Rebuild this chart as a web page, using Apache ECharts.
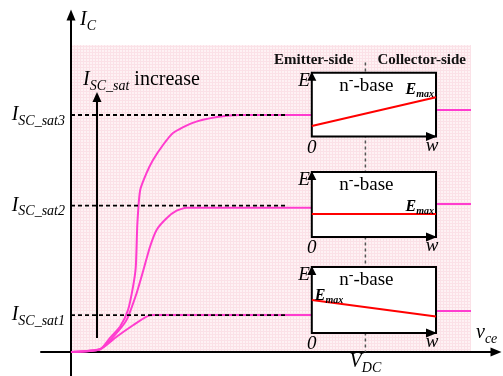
<!DOCTYPE html>
<html>
<head>
<meta charset="utf-8">
<script src="https://cdn.jsdelivr.net/npm/echarts@6/dist/echarts.min.js"></script>
<style>
html, body { margin: 0; padding: 0; background: #fff; }
#chart { width: 503px; height: 376px; }
</style>
</head>
<body>
<div id="chart"></div>
<script>
// units: vce on x, Ic on y (arbitrary)
var satNames = ['SC_sat1', 'SC_sat2', 'SC_sat3'];
var satLevels = [12.3, 48.8, 79];
var levelEnd = 53.5;

var curveSat1 = [[0, 0], [7.25, 0.9], [11.4, 5.1], [15.6, 9], [18.9, 11.8], [20.6, 12.3], [60.2, 12.3], [91.25, 13.7], [100, 13.7]];
var curveSat2 = [[0, 0], [7.25, 0.9], [10.6, 5.1], [13.9, 10.7], [16.4, 19.6], [18.1, 27.3], [19.75, 35.1], [21.4, 40.7], [23.9, 44.6], [26.4, 47.1], [28.9, 48.1], [60.2, 48.1], [91.25, 49.3], [100, 49.3]];
var curveSat3 = [[0, 0], [7.25, 0.9], [9.75, 4.7], [12.25, 8.4], [14.25, 14], [15.5, 21.7], [16.2, 28.4], [16.6, 43], [17.3, 54], [18.9, 59.7], [20.5, 64], [23, 69], [25.5, 73], [30.25, 76.3], [36.5, 78.3], [42.25, 79], [60.2, 79], [91.25, 80.7], [100, 80.7]];

var vDC = 73.6;
var vDCTop = 96.5;
var increaseFrom = 4.7, increaseTo = 86.7, increaseAt = 6.5;

// n- base insets: 0 and w edges, E axis range, field at 0 and at w
var baseEdges = [60.2, 91.25];
var boxTop = [93.1, 60, 28.3];
var boxBottom = [71.8, 38.3, 6.3];
var fieldAt0 = [75.3, 46, 17.3];
var fieldAtW = [84.9, 46, 11.8];
var emaxSide = ['w', 'w', '0'];

var serif = '"Liberation Serif", "Times New Roman", serif';
var magenta = '#ff3ccf';

// subscript drops by (line - small) / 2 below the big letter
function subRich(big, small, drop, color, bold) {
    var w = bold ? 'bold' : 'normal';
    var line = 2 * drop + small;
    return {
        b: { fontFamily: serif, fontStyle: 'italic', fontWeight: w, fontSize: big, lineHeight: line, color: color },
        s: { fontFamily: serif, fontStyle: 'italic', fontWeight: w, fontSize: small, lineHeight: small, verticalAlign: 'bottom', color: color },
        t: { fontFamily: serif, fontSize: big, lineHeight: line, color: color }
    };
}
var richMain = subRich(20, 14, 6, '#000', false);
var richEmax = subRich(16, 10, 4, '#ff0000', true);

function triangle(tip, dx, dy, len, half) {
    // arrow head with tip at `tip`, pointing along (dx, dy)
    var bx = tip[0] - dx * len, by = tip[1] - dy * len;
    return [tip, [bx - dy * half, by + dx * half], [bx + dy * half, by - dx * half]];
}

var myChart = echarts.init(document.getElementById('chart'));

var series = [];

// pink grid paper behind the curves
series.push({
    type: 'custom',
    z: 0,
    silent: true,
    data: [[0]],
    renderItem: function (params, api) {
        var p0 = api.coord([0, 0]), p1 = api.coord([100, 102.3]);
        var kids = [{
            type: 'rect',
            shape: { x: p0[0], y: p1[1], width: p1[0] - p0[0], height: p0[1] - p1[1] },
            style: { fill: '#fef2f4' }
        }];
        var x, y;
        for (x = p0[0] + 3; x < p1[0]; x += 3) {
            kids.push({ type: 'line', shape: { x1: Math.round(x) + 0.5, y1: p1[1], x2: Math.round(x) + 0.5, y2: p0[1] },
                style: { stroke: '#fbe1e7', lineWidth: 1 } });
        }
        for (y = p0[1] - 3; y > p1[1]; y -= 3) {
            kids.push({ type: 'line', shape: { x1: p0[0], y1: Math.round(y) + 0.5, x2: p1[0], y2: Math.round(y) + 0.5 },
                style: { stroke: '#fbe1e7', lineWidth: 1 } });
        }
        return { type: 'group', children: kids };
    }
});

// vertical V_DC divider with the side captions
series.push({
    type: 'custom',
    z: 1,
    silent: true,
    data: [[vDC, vDCTop]],
    renderItem: function (params, api) {
        var top = api.coord([api.value(0), api.value(1)]);
        var bot = api.coord([api.value(0), 0]);
        var font = { fontFamily: serif, fontWeight: 'bold', fontSize: 15, fill: '#111', verticalAlign: 'middle' };
        return {
            type: 'group',
            children: [
                { type: 'line', shape: { x1: top[0], y1: top[1], x2: bot[0], y2: bot[1] },
                  style: { stroke: '#555', lineWidth: 1.5, lineDash: [3, 3] } },
                { type: 'text', x: top[0] - 12, y: top[1] - 2,
                  style: Object.assign({ text: 'Emitter-side', align: 'right' }, font) },
                { type: 'text', x: top[0] + 12, y: top[1] - 2,
                  style: Object.assign({ text: 'Collector-side', align: 'left' }, font) }
            ]
        };
    }
});

[curveSat1, curveSat2, curveSat3].forEach(function (c) {
    series.push({
        type: 'line',
        z: 2,
        data: c,
        smooth: 0.2,
        showSymbol: false,
        silent: true,
        lineStyle: { color: magenta, width: 2 }
    });
});

satLevels.forEach(function (lv) {
    series.push({
        type: 'line',
        z: 3,
        data: [[0, lv], [levelEnd, lv]],
        showSymbol: false,
        silent: true,
        lineStyle: { color: '#000', width: 1.8, type: [4, 3] }
    });
});

// the three n- base insets
series.push({
    type: 'custom',
    z: 4,
    silent: true,
    data: boxTop.map(function (t, i) { return [i]; }),
    renderItem: function (params, api) {
        var i = params.dataIndex;
        var tl = api.coord([baseEdges[0], boxTop[i]]);
        var br = api.coord([baseEdges[1], boxBottom[i]]);
        var f0 = api.coord([baseEdges[0], fieldAt0[i]]);
        var fw = api.coord([baseEdges[1], fieldAtW[i]]);
        var mid = api.coord([vDC, 0])[0];
        var it = { fontFamily: serif, fontStyle: 'italic', fontSize: 19, fill: '#000', verticalAlign: 'middle' };
        var emax;
        if (emaxSide[i] === 'w') {
            emax = { type: 'text', x: br[0] - 2, y: fw[1] - 7,
                     style: { text: '{b|E}{s|max}', rich: richEmax, align: 'right', verticalAlign: 'middle' } };
        } else {
            emax = { type: 'text', x: tl[0] + 3, y: f0[1] - 4,
                     style: { text: '{b|E}{s|max}', rich: richEmax, align: 'left', verticalAlign: 'middle' } };
        }
        return {
            type: 'group',
            children: [
                { type: 'rect', shape: { x: tl[0], y: tl[1], width: br[0] - tl[0], height: br[1] - tl[1] },
                  style: { fill: '#fff', stroke: '#000', lineWidth: 2 } },
                { type: 'line', shape: { x1: f0[0], y1: f0[1], x2: fw[0], y2: fw[1] },
                  style: { stroke: '#ff0000', lineWidth: 2 } },
                { type: 'polygon', shape: { points: triangle([tl[0], tl[1] - 1], 0, -1, 9, 4.5) },
                  style: { fill: '#000' } },
                { type: 'polygon', shape: { points: triangle([br[0] + 1, br[1]], 1, 0, 11, 4.5) },
                  style: { fill: '#000' } },
                { type: 'text', x: tl[0] - 2, y: tl[1] + 8, style: Object.assign({ text: 'E', align: 'right' }, it) },
                { type: 'text', x: tl[0], y: br[1] + 11, style: Object.assign({ text: '0', align: 'center' }, it) },
                { type: 'text', x: br[0] - 4, y: br[1] + 9, style: Object.assign({ text: 'w', align: 'center' }, it) },
                { type: 'text', x: mid + 1, y: tl[1] + 13,
                  style: { text: '{n|n}{p|-}{n|-base}', align: 'center', verticalAlign: 'middle',
                           rich: {
                               n: { fontFamily: serif, fontSize: 19, lineHeight: 24, color: '#000' },
                               p: { fontFamily: serif, fontSize: 14, lineHeight: 10, verticalAlign: 'top', color: '#000' }
                           } } },
                emax
            ]
        };
    }
});

// "I_SC_sat increase" arrow
series.push({
    type: 'custom',
    z: 5,
    silent: true,
    data: [[increaseAt, increaseFrom, increaseTo]],
    renderItem: function (params, api) {
        var a = api.coord([api.value(0), api.value(1)]);
        var b = api.coord([api.value(0), api.value(2)]);
        return {
            type: 'group',
            children: [
                { type: 'line', shape: { x1: a[0], y1: a[1], x2: b[0], y2: b[1] + 8 },
                  style: { stroke: '#000', lineWidth: 2 } },
                { type: 'polygon', shape: { points: triangle(b, 0, -1, 10, 4.5) }, style: { fill: '#000' } },
                { type: 'text', x: b[0] - 14, y: b[1] - 12,
                  style: { text: '{b|I}{s|SC_sat}{t| increase}', rich: richMain, align: 'left', verticalAlign: 'middle' } }
            ]
        };
    }
});

option = {
    animation: false,
    backgroundColor: '#fff',
    grid: { left: 41, right: 7, top: 15, bottom: 0, containLabel: false, outerBoundsMode: 'none' },
    xAxis: {
        type: 'value',
        min: -7.5,
        max: 106.25,
        splitLine: { show: false },
        axisTick: { show: false },
        axisLine: {
            onZero: true,
            symbol: ['none', 'triangle'],
            symbolSize: [9, 11],
            lineStyle: { color: '#000', width: 2 }
        },
        axisLabel: {
            customValues: [vDC],
            formatter: function () { return '{b|V}{s|DC}'; },
            rich: richMain,
            verticalAlign: 'middle',
            margin: -14
        },
        name: '{b|v}{s|ce}',
        nameLocation: 'end',
        nameGap: -20,
        nameTextStyle: { rich: richMain, align: 'left', verticalAlign: 'bottom', padding: [0, 0, 6, 0] }
    },
    yAxis: {
        type: 'value',
        min: -8,
        max: 112.33,
        splitLine: { show: false },
        axisTick: { show: false },
        axisLine: {
            onZero: true,
            symbol: ['none', 'triangle'],
            symbolSize: [9, 11],
            lineStyle: { color: '#000', width: 2 }
        },
        axisLabel: {
            customValues: satLevels,
            formatter: function (v) { return '{b|I}{s|' + satNames[satLevels.indexOf(v)] + '}'; },
            rich: richMain,
            margin: -24
        },
        name: '{b|I}{s|C}',
        nameLocation: 'end',
        nameGap: -5,
        nameTextStyle: { rich: richMain, align: 'left', verticalAlign: 'middle', padding: [0, 0, 0, 9] }
    },
    series: series
};
myChart.setOption(option);
</script>
</body>
</html>
